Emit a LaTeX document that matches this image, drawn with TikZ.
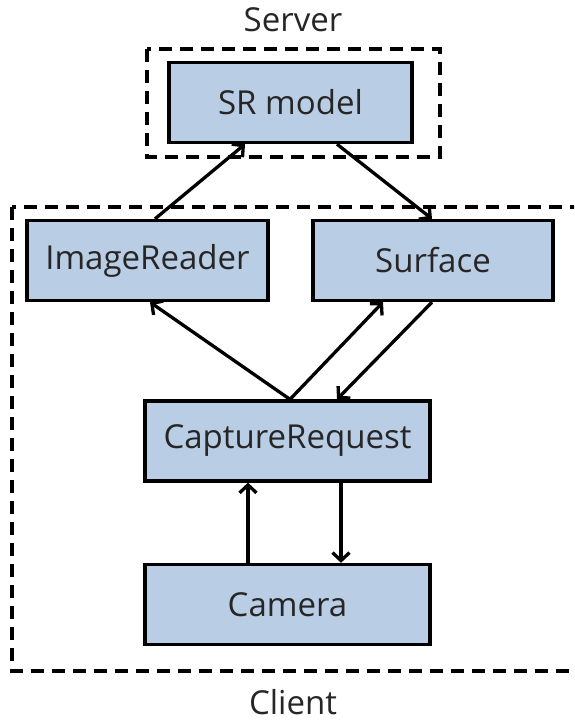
\documentclass[tikz,border=0pt]{standalone}
\usepackage{fontspec}
\setmainfont{Open Sans}
\usetikzlibrary{arrows.meta}
\definecolor{boxfill}{HTML}{B9CDE5}
\definecolor{txt}{HTML}{262626}
\begin{document}
\begin{tikzpicture}[x=1pt,y=-1pt,
  blk/.style={draw=black,line width=3.3pt,fill=boxfill,minimum height=80pt,inner sep=0pt,font=\fontsize{33}{38}\selectfont,text=txt},
  grp/.style={draw=black,line width=3.3pt,dash pattern=on 13pt off 8pt},
  arr/.style={line width=3.3pt,-{Straight Barb[length=8pt,width=17pt,line width=3.3pt]}},
  lbl/.style={font=\fontsize{33}{38}\selectfont,text=txt,inner sep=0pt}]
\clip (0,0) rectangle (574,721);
\fill[white] (0,0) rectangle (574,721);
\draw[grp] (147,49) rectangle (440,157);
\draw[grp] (12,207) rectangle (600,671);
\node[lbl] (srv) at (293,20) {Server};
\node[lbl] (cli) at (293,702) {Client};
\node[blk,minimum width=243pt] (sr) at (290.5,102.5) {SR model};
\node[blk,minimum width=241pt] (ir) at (147.5,260.5) {ImageReader};
\node[blk,minimum width=240pt] (sf) at (433,260.5) {Surface};
\node[blk,minimum width=285pt] (cr) at (287.5,441) {CaptureRequest};
\node[blk,minimum width=285pt] (cam) at (287.5,604.5) {Camera};
\draw[arr] ([xshift=7.5pt]ir.north) -- ([xshift=-45.5pt]sr.south);
\draw[arr] ([xshift=46.5pt]sr.south) -- ([xshift=-1pt]sf.north);
\draw[arr] ([xshift=2.5pt]cr.north) -- ([xshift=2.5pt]ir.south);
\draw[arr] ([xshift=2.5pt]cr.north) -- ([xshift=-50pt]sf.south);
\draw[arr] ([xshift=-1pt]sf.south) -- ([xshift=49.5pt]cr.north);
\draw[arr] ([xshift=-39.5pt]cam.north) -- ([xshift=-39.5pt]cr.south);
\draw[arr] ([xshift=53.5pt]cr.south) -- ([xshift=53.5pt]cam.north);
\end{tikzpicture}
\end{document}
